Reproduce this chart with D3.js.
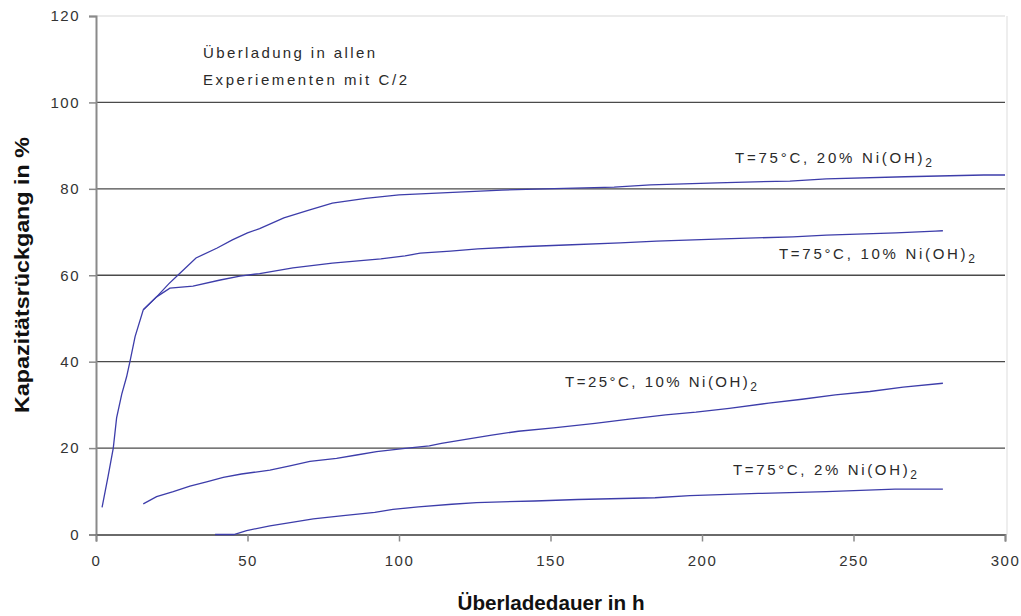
<!DOCTYPE html>
<html>
<head>
<meta charset="utf-8">
<script src="https://cdn.jsdelivr.net/npm/d3@7"></script>
<style>
  html, body { margin: 0; padding: 0; background: #ffffff; }
  svg { display: block; }
  text { font-family: Arial, "Liberation Sans", sans-serif; }
</style>
</head>
<body>
<svg id="chart" width="1021" height="616"></svg>
<script>
// Overcharge duration (h) and capacity loss (%) for each test series
const hours75_20 = [2, 4, 5.7, 6.8, 8.5, 10.1, 11.2, 12.9, 15.6, 20, 24, 27, 33, 40, 45, 50, 54, 62, 70, 78, 89, 100, 116, 134, 148, 171, 183, 205, 229, 241, 267, 293, 300];
const loss75_20  = [6.3, 13.5, 20, 27, 32.5, 36.5, 40, 45.8, 52, 55, 58, 60, 64, 66.3, 68.2, 69.8, 70.8, 73.3, 75, 76.7, 77.8, 78.6, 79.1, 79.7, 80, 80.4, 80.9, 81.4, 81.8, 82.3, 82.8, 83.2, 83.2];

const hours75_10 = [15.6, 20, 24.4, 32, 41, 47.5, 54, 65, 78, 94, 102, 107, 117, 126, 140, 155, 173, 185, 207, 230, 241, 264, 277, 279.5];
const loss75_10  = [52, 55, 57, 57.5, 58.9, 59.8, 60.4, 61.7, 62.8, 63.8, 64.5, 65.1, 65.6, 66.1, 66.6, 67, 67.5, 67.9, 68.4, 68.9, 69.3, 69.8, 70.2, 70.3];

const hours25_10 = [15.6, 20, 25.5, 31, 36.5, 42, 48, 57.4, 64, 70.6, 79.4, 86, 92.6, 102, 110, 114, 122, 130.6, 139.4, 151, 164.7, 176, 188, 198, 209, 222, 233, 244, 255.4, 266.4, 279.5];
const loss25_10  = [7.1, 8.75, 9.9, 11.2, 12.2, 13.2, 14, 14.9, 15.9, 16.9, 17.6, 18.4, 19.2, 19.95, 20.5, 21.1, 22, 23, 23.9, 24.7, 25.7, 26.7, 27.7, 28.3, 29.2, 30.4, 31.3, 32.3, 33.1, 34.1, 35];

const hours75_2 = [39.3, 45.5, 49.7, 57.4, 64.6, 71.7, 81.6, 92, 98, 106.4, 117.4, 125.6, 144.8, 159, 184.5, 196, 218.6, 241, 263.7, 279.5];
const loss75_2  = [0, 0, 0.9, 2, 2.8, 3.6, 4.35, 5.1, 5.8, 6.4, 7, 7.4, 7.75, 8.1, 8.5, 9, 9.5, 9.9, 10.5, 10.5];

const xTicks = [0, 50, 100, 150, 200, 250, 300];
const yTicks = [0, 20, 40, 60, 80, 100, 120];
const gridValues = [20, 40, 60, 80, 100];

const seriesLabels = [
  { main: "T=75°C, 20% Ni(OH)", sub: "2", x: 735, y: 158, len: 197 },
  { main: "T=75°C, 10% Ni(OH)", sub: "2", x: 779, y: 254, len: 196 },
  { main: "T=25°C, 10% Ni(OH)", sub: "2", x: 565, y: 382, len: 192 },
  { main: "T=75°C, 2% Ni(OH)",  sub: "2", x: 733, y: 470, len: 184 }
];
const noteLines = ["Überladung in allen", "Experiementen mit C/2"];

const series = [
  { hours: hours75_20, loss: loss75_20 },
  { hours: hours75_10, loss: loss75_10 },
  { hours: hours25_10, loss: loss25_10 },
  { hours: hours75_2,  loss: loss75_2 }
];

const svg = d3.select("#chart");
const x = d3.scaleLinear().domain([0, 300]).range([96, 1005]);
const y = d3.scaleLinear().domain([0, 120]).range([534.5, 16]);

// plot frame: faint top and right edges
svg.append("line").attr("x1", x(0)).attr("x2", x(300)).attr("y1", y(120)).attr("y2", y(120))
  .attr("stroke", "#e4e4e4").attr("stroke-width", 1.5);
svg.append("line").attr("x1", x(300) + 2).attr("x2", x(300) + 2).attr("y1", y(120)).attr("y2", y(0))
  .attr("stroke", "#e8e8e8").attr("stroke-width", 1.5);

// horizontal gridlines
svg.append("g").selectAll("line").data(gridValues).join("line")
  .attr("x1", x(0)).attr("x2", x(300))
  .attr("y1", d => y(d)).attr("y2", d => y(d))
  .attr("stroke", "#4a4a4a").attr("stroke-width", 1.4);

// y axis
const yAxis = d3.axisLeft(y).tickValues(yTicks).tickSize(7).tickPadding(9).tickFormat(d3.format("d"));
const gy = svg.append("g").attr("transform", `translate(${x(0)},0)`).call(yAxis);
gy.select(".domain").attr("stroke", "#8a8a8a").attr("stroke-width", 2);
gy.selectAll(".tick line").attr("stroke", "#8a8a8a").attr("stroke-width", 1.5);
gy.selectAll(".tick text").attr("font-size", 15).attr("fill", "#333")
  .attr("letter-spacing", "1.5px").attr("font-family", "Arial, 'Liberation Sans', sans-serif");

// x axis
const xAxis = d3.axisBottom(x).tickValues(xTicks).tickSize(7).tickPadding(14).tickFormat(d3.format("d"));
const gx = svg.append("g").attr("transform", `translate(0,${y(0)})`).call(xAxis);
gx.select(".domain").attr("stroke", "#6a6a6a").attr("stroke-width", 1.8);
gx.selectAll(".tick line").attr("stroke", "#8a8a8a").attr("stroke-width", 1.5);
gx.selectAll(".tick text").attr("font-size", 15).attr("fill", "#333")
  .attr("letter-spacing", "1.5px").attr("font-family", "Arial, 'Liberation Sans', sans-serif");

// measurement curves
const line = d3.line().x(d => x(d[0])).y(d => y(d[1]));
svg.append("g").selectAll("path").data(series).join("path")
  .attr("d", s => line(s.hours.map((h, i) => [h, s.loss[i]])))
  .attr("fill", "none")
  .attr("stroke", "#3d3daa")
  .attr("stroke-width", 1.3);

// series labels
seriesLabels.forEach(l => {
  const t = svg.append("text")
    .attr("x", l.x).attr("y", l.y + 5)
    .attr("font-size", 15).attr("fill", "#2a2a2a")
    .attr("textLength", l.len).attr("lengthAdjust", "spacing");
  t.append("tspan").text(l.main);
  t.append("tspan").attr("dy", 4).attr("font-size", 12).text(l.sub);
});

// note in the upper left
noteLines.forEach((s, i) => {
  svg.append("text")
    .attr("x", 203).attr("y", 58 + i * 27)
    .attr("font-size", 15).attr("fill", "#2a2a2a")
    .attr("textLength", i === 0 ? 172 : 204).attr("lengthAdjust", "spacing")
    .text(s);
});

// axis titles
svg.append("text")
  .attr("transform", "translate(29,275) rotate(-90)")
  .attr("text-anchor", "middle")
  .attr("font-size", 20).attr("font-weight", "bold").attr("fill", "#111")
  .attr("textLength", 276).attr("lengthAdjust", "spacingAndGlyphs")
  .text("Kapazitätsrückgang in %");

svg.append("text")
  .attr("x", 551).attr("y", 610)
  .attr("text-anchor", "middle")
  .attr("font-size", 20).attr("font-weight", "bold").attr("fill", "#111")
  .attr("textLength", 187).attr("lengthAdjust", "spacingAndGlyphs")
  .text("Überladedauer in h");
</script>
</body>
</html>
